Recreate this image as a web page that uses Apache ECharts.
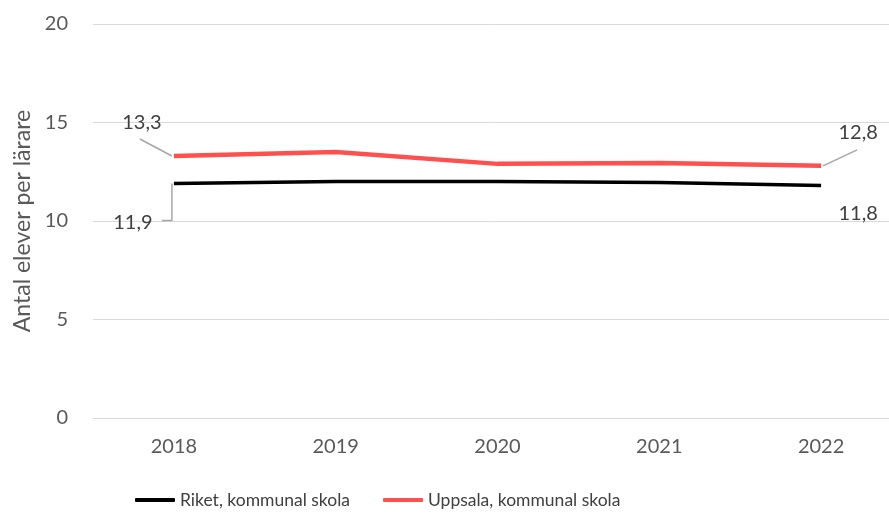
<!DOCTYPE html>
<html>
<head>
<meta charset="utf-8">
<script src="https://cdn.jsdelivr.net/npm/echarts@6/dist/echarts.min.js"></script>
<style>html,body{margin:0;padding:0;background:#fff}#c{width:889px;height:513px}</style>
</head>
<body>
<div id="c"></div>
<script>
const years = ['2018', '2019', '2020', '2021', '2022'];
const riket = [11.9, 12.0, 12.0, 11.95, 11.8];
const uppsala = [13.3, 13.5, 12.9, 12.95, 12.8];
const seriesNames = ['Riket, kommunal skola', 'Uppsala, kommunal skola'];
const yTicks = [0, 5, 10, 15, 20];
const yTitle = 'Antal elever per lärare';

const FONT = 'Lato';
const last = years.length - 1;
function items(vals) {
  return vals.map((v, i) => ({ value: v, label: { show: i === 0 || i === last } }));
}
const fmt = p => Number(p.value).toFixed(1).replace('.', ',');
const labelStyle = { fontFamily: FONT, fontSize: 20, color: '#404040' };

// leader lines anchored at data points (kind: 0 = elbow down-left, 1 = diagonal up-left, 2 = diagonal up-right)
const leaders = [[0, riket[0], 0], [0, uppsala[0], 1], [last, uppsala[last], 2]];
const leaderShapes = [
  [[-2, 0], [-2, 37], [-12, 37]],
  [[-2, 0], [-34, -17]],
  [[2, 0], [36, -16]]
];

const chart = echarts.init(document.getElementById('c'));
chart.setOption({
  animation: false,
  grid: { left: 93, right: -13, top: 24, bottom: 95, outerBoundsMode: 'none', containLabel: false },
  xAxis: {
    type: 'category', data: years, boundaryGap: true,
    axisLine: { show: true, lineStyle: { color: '#d9d9d9', width: 1 } },
    axisTick: { show: false },
    axisLabel: { fontFamily: FONT, fontSize: 20, color: '#595959', margin: 19 }
  },
  yAxis: {
    type: 'value', min: yTicks[0], max: yTicks[yTicks.length - 1], interval: 5,
    name: yTitle, nameLocation: 'middle', nameGap: 58,
    nameTextStyle: { fontFamily: FONT, fontSize: 23, color: '#595959' },
    axisLine: { show: false }, axisTick: { show: false },
    axisLabel: { fontFamily: FONT, fontSize: 20, color: '#595959', margin: 25 },
    splitLine: { lineStyle: { color: '#d9d9d9', width: 1 } }
  },
  legend: {
    bottom: -1, left: 130, itemWidth: 40, itemHeight: 4, itemGap: 33,
    icon: 'roundRect',
    textStyle: { fontFamily: FONT, fontSize: 17.5, color: '#404040' },
    data: seriesNames
  },
  series: [
    {
      name: 'leaders', type: 'custom', data: leaders, z: 2, silent: true,
      renderItem: (params, api) => {
        const p = api.coord([api.value(0), api.value(1)]);
        const shape = leaderShapes[api.value(2)];
        return {
          type: 'polyline',
          shape: { points: shape.map(d => [p[0] + d[0], p[1] + d[1]]) },
          style: { stroke: '#a6a6a6', lineWidth: 1.5, fill: null }
        };
      }
    },
    {
      name: seriesNames[0], type: 'line', data: items(riket),
      symbol: 'circle', symbolSize: 0, showSymbol: true,
      lineStyle: { color: '#000000', width: 3.5 }, itemStyle: { color: '#000000' },
      label: Object.assign({ show: false, position: 'bottom', formatter: fmt }, labelStyle),
      labelLayout: p => p.dataIndex === 0 ? { dx: -41, dy: 24 } : { dx: 37, dy: 13 },
      z: 3
    },
    {
      name: seriesNames[1], type: 'line', data: items(uppsala),
      symbol: 'circle', symbolSize: 0, showSymbol: true,
      lineStyle: { color: '#ff5050', width: 4.5 }, itemStyle: { color: '#ff5050' },
      label: Object.assign({ show: false, position: 'top', formatter: fmt }, labelStyle),
      labelLayout: p => p.dataIndex === 0 ? { dx: -32, dy: -18 } : { dx: 37, dy: -18 },
      z: 4
    }
  ]
});
</script>
</body>
</html>
